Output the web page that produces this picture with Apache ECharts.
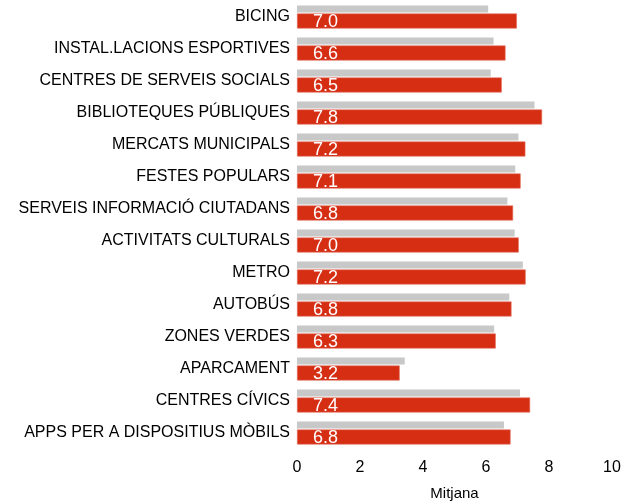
<!DOCTYPE html>
<html lang="ca">
<head>
    <meta charset="UTF-8">
    <title>Mitjana serveis</title>
    <script src="https://cdn.jsdelivr.net/npm/echarts@6/dist/echarts.min.js"></script>
    <style>
        html, body { margin: 0; padding: 0; background: #fff; }
        #chart { width: 627px; height: 501px; }
    </style>
</head>
<body>
<div id="chart"></div>
<script>
    // categories, from top to bottom
    let categories = [
        'BICING', 'INSTAL.LACIONS ESPORTIVES', 'CENTRES DE SERVEIS SOCIALS', 'BIBLIOTEQUES PÚBLIQUES',
        'MERCATS MUNICIPALS', 'FESTES POPULARS', 'SERVEIS INFORMACIÓ CIUTADANS', 'ACTIVITATS CULTURALS',
        'METRO', 'AUTOBÚS', 'ZONES VERDES', 'APARCAMENT', 'CENTRES CÍVICS', 'APPS PER A DISPOSITIUS MÒBILS'
    ];
    // previous value (grey)
    let previous = [6.07, 6.24, 6.15, 7.54, 7.03, 6.93, 6.68, 6.91, 7.17, 6.74, 6.26, 3.42, 7.08, 6.57];
    // current value (red)
    let current = [6.98, 6.62, 6.5, 7.78, 7.25, 7.1, 6.86, 7.04, 7.26, 6.81, 6.31, 3.26, 7.4, 6.78];
    // labels shown inside the red bars
    let labels = ['7.0', '6.6', '6.5', '7.8', '7.2', '7.1', '6.8', '7.0', '7.2', '6.8', '6.3', '3.2', '7.4', '6.8'];
    let ticks = [0, 2, 4, 6, 8, 10];

    let myChart = echarts.init(document.getElementById('chart'));
    let font = 'Liberation Sans, Arial, sans-serif';

    let option = {
        animation: false,
        grid: {left: 297, right: 15, top: 1, bottom: 52, containLabel: false, outerBoundsMode: 'none'},
        xAxis: {
            type: 'value',
            min: ticks[0],
            max: ticks[ticks.length - 1],
            interval: 2,
            name: 'Mitjana',
            nameLocation: 'middle',
            nameGap: 37,
            nameTextStyle: {color: '#000', fontSize: 15, fontFamily: font},
            axisLine: {show: false},
            axisTick: {show: false},
            splitLine: {show: false},
            axisLabel: {color: '#000', fontSize: 16, fontFamily: font, margin: 11}
        },
        yAxis: {
            type: 'category',
            inverse: true,
            data: categories,
            axisLine: {show: false},
            axisTick: {show: false},
            axisLabel: {color: '#000', fontSize: 16, fontFamily: font, margin: 7}
        },
        series: [
            {
                name: 'anterior',
                type: 'bar',
                data: previous,
                barWidth: 7,
                barGap: '14%',
                itemStyle: {color: '#c8c8c8'}
            },
            {
                name: 'actual',
                type: 'bar',
                data: current,
                barWidth: 15,
                itemStyle: {color: '#d52e13', borderColor: '#e4715e', borderWidth: 0.6},
                label: {
                    show: true,
                    position: 'insideLeft',
                    distance: 16,
                    offset: [0, 1],
                    color: '#fff',
                    fontSize: 18,
                    fontFamily: font,
                    formatter: function (p) {
                        return labels[p.dataIndex];
                    }
                }
            }
        ]
    };
    myChart.setOption(option);
</script>
</body>
</html>
